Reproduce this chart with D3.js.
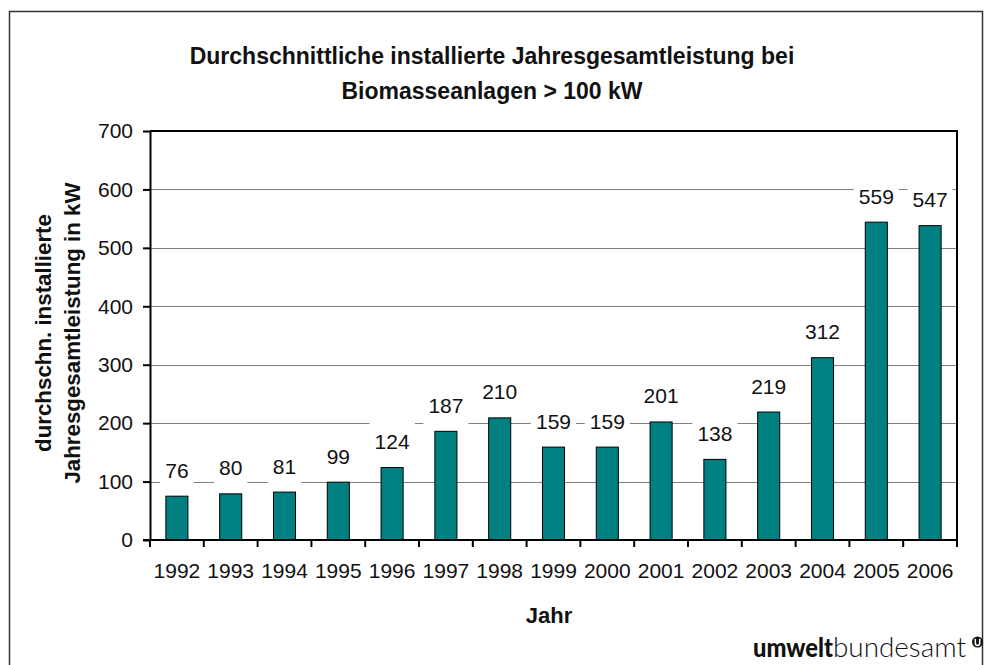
<!DOCTYPE html>
<html>
<head>
<meta charset="utf-8">
<script src="https://cdn.jsdelivr.net/npm/d3@7"></script>
<style>
  body { margin: 0; background: #fff; }
  svg { display: block; font-family: "Liberation Sans", Arial, sans-serif; }
</style>
</head>
<body>
<svg id="chart"></svg>
<script>
// data
const years = ["1992", "1993", "1994", "1995", "1996", "1997", "1998", "1999",
               "2000", "2001", "2002", "2003", "2004", "2005", "2006"];
// values printed above the bars
const labelValues = [76, 80, 81, 99, 124, 187, 210, 159, 159, 201, 138, 219, 312, 559, 547];
// bar heights as drawn (2005/2006 bars sit a bit below their labels)
const barValues = [75, 79, 82, 99, 124, 186, 209, 159, 159, 202, 138, 219, 312, 544, 538];
const yTicks = [0, 100, 200, 300, 400, 500, 600, 700];

const width = 984;
const height = 665;
const plotLeft = 150, plotRight = 957, plotTop = 131, plotBottom = 540;

const svg = d3.select("#chart")
    .attr("width", width)
    .attr("height", height);

// outer frame
svg.append("rect")
    .attr("x", 9.5).attr("y", 11.5)
    .attr("width", 973).attr("height", 670)
    .attr("fill", "none")
    .attr("stroke", "#333")
    .attr("stroke-width", 1.5);

const x = d3.scaleBand()
    .domain(years)
    .range([plotLeft, plotRight])
    .padding(0);

const y = d3.scaleLinear()
    .domain([0, 700])
    .range([plotBottom, plotTop]);

// gridlines
svg.append("g")
    .selectAll("line")
    .data(yTicks.filter(t => t > 0 && t < 700))
    .enter()
    .append("line")
    .attr("x1", plotLeft).attr("x2", plotRight)
    .attr("y1", d => Math.round(y(d)) + 0.5)
    .attr("y2", d => Math.round(y(d)) + 0.5)
    .attr("stroke", "#808080")
    .attr("stroke-width", 1.2);

// bars
const barW = x.step() * 0.41;
svg.append("g")
    .selectAll("rect")
    .data(barValues)
    .enter()
    .append("rect")
    .attr("x", (d, i) => x(years[i]) + (x.step() - barW) / 2)
    .attr("y", d => y(d))
    .attr("width", barW)
    .attr("height", d => y(0) - y(d))
    .attr("fill", "#008080")
    .attr("stroke", "#000")
    .attr("stroke-width", 1);

// data labels with white boxes
const labels = svg.append("g")
    .selectAll("g")
    .data(labelValues)
    .enter()
    .append("g")
    .attr("transform", (d, i) =>
        `translate(${x(years[i]) + x.step() / 2}, ${y(barValues[i]) - 26})`);

labels.append("rect")
    .attr("fill", "#fff");

labels.append("text")
    .text(d => d)
    .attr("text-anchor", "middle")
    .attr("y", 7.5)
    .attr("font-size", 21)
    .attr("fill", "#111");

labels.each(function () {
    const g = d3.select(this);
    const bb = g.select("text").node().getBBox();
    g.select("rect")
        .attr("x", bb.x - 5)
        .attr("width", bb.width + 10)
        .attr("y", -19)
        .attr("height", 38);
});

// plot frame (top and right)
svg.append("path")
    .attr("d", `M${plotLeft},${plotTop}H${plotRight}V${plotBottom}`)
    .attr("fill", "none")
    .attr("stroke", "#000")
    .attr("stroke-width", 2);

// y axis
const yAxis = svg.append("g")
    .attr("transform", `translate(${plotLeft}, 0)`)
    .call(d3.axisLeft(y).tickValues(yTicks).tickSize(7).tickSizeOuter(0).tickPadding(10));
yAxis.select(".domain").attr("stroke", "#000").attr("stroke-width", 2);
yAxis.selectAll(".tick line").attr("stroke", "#000").attr("stroke-width", 2);
yAxis.selectAll(".tick text")
    .attr("font-size", 21)
    .attr("font-family", "Liberation Sans, Arial, sans-serif")
    .attr("fill", "#111");

// x axis: boundary ticks
const xAxis = svg.append("g")
    .attr("transform", `translate(0, ${plotBottom})`);
xAxis.append("line")
    .attr("x1", plotLeft - 7).attr("x2", plotRight)
    .attr("stroke", "#000").attr("stroke-width", 2);
xAxis.selectAll(".xt")
    .data(years.concat(["end"]))
    .enter()
    .append("line")
    .attr("class", "xt")
    .attr("x1", (d, i) => i < years.length ? x(d) : x.range()[1])
    .attr("x2", (d, i) => i < years.length ? x(d) : x.range()[1])
    .attr("y1", 0).attr("y2", 7)
    .attr("stroke", "#000").attr("stroke-width", 2);
xAxis.selectAll(".xl")
    .data(years)
    .enter()
    .append("text")
    .attr("class", "xl")
    .attr("x", d => x(d) + x.step() / 2)
    .attr("y", 38)
    .attr("text-anchor", "middle")
    .attr("font-size", 21)
    .attr("fill", "#111")
    .text(d => d);

// title
const title = svg.append("text")
    .attr("text-anchor", "middle")
    .attr("font-size", 23)
    .attr("font-weight", "bold")
    .attr("fill", "#111");
title.append("tspan").attr("x", 492).attr("y", 64)
    .text("Durchschnittliche installierte Jahresgesamtleistung bei");
title.append("tspan").attr("x", 492).attr("y", 99)
    .text("Biomasseanlagen > 100 kW");

// y axis title
const yTitle = svg.append("text")
    .attr("transform", "translate(0, 333) rotate(-90)")
    .attr("text-anchor", "middle")
    .attr("font-size", 22.3)
    .attr("font-weight", "bold")
    .attr("fill", "#111");
yTitle.append("tspan").attr("x", 0).attr("y", 51).text("durchschn. installierte");
yTitle.append("tspan").attr("x", 0).attr("y", 80).text("Jahresgesamtleistung in kW");

// x axis title
svg.append("text")
    .attr("x", 549).attr("y", 623)
    .attr("text-anchor", "middle")
    .attr("font-size", 22)
    .attr("font-weight", "bold")
    .attr("fill", "#111")
    .text("Jahr");

// logo (one word, two weights)
const logo = svg.append("text")
    .attr("x", 753).attr("y", 657)
    .attr("font-family", "Lato, 'Open Sans', sans-serif")
    .attr("font-size", 27)
    .attr("fill", "#111");
logo.append("tspan")
    .attr("font-weight", 900)
    .attr("textLength", 80)
    .attr("lengthAdjust", "spacingAndGlyphs")
    .text("umwelt");
logo.append("tspan")
    .attr("font-weight", 300)
    .attr("textLength", 133)
    .attr("lengthAdjust", "spacingAndGlyphs")
    .text("bundesamt");
svg.append("circle")
    .attr("cx", 977.5).attr("cy", 642)
    .attr("r", 5.5)
    .attr("fill", "#111");
svg.append("path")
    .attr("d", "M975.3,638.8V643.2a2.2,2.2 0 0 0 4.4,0V638.8")
    .attr("fill", "none")
    .attr("stroke", "#fff")
    .attr("stroke-width", 1.5);
</script>
</body>
</html>
